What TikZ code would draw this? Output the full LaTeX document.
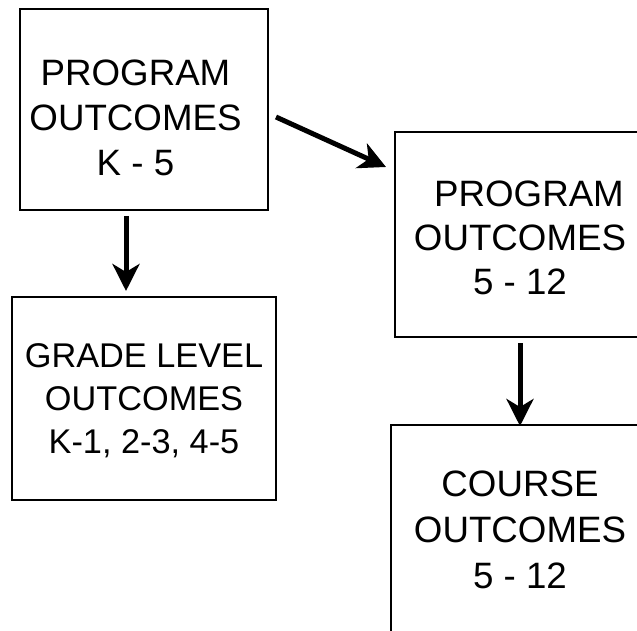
\documentclass[tikz,border=0pt]{standalone}
\usepackage{fontspec}
\setmainfont{Liberation Sans}
\usetikzlibrary{arrows.meta}
\begin{document}
\begin{tikzpicture}[x=1pt,y=-1pt,
  box/.style={draw=black, line width=2pt, inner sep=0pt},
  txt/.style={align=center, inner sep=0pt, font=\fontsize{36.7}{#1}\selectfont},
  smalltxt/.style={align=center, inner sep=0pt, font=\fontsize{34.3}{#1}\selectfont},
  arr/.style={line width=5pt, -{Stealth[length=27pt,width=27pt,inset=8pt]}}]
\useasboundingbox (0,0) rectangle (637,631);
\clip (0,0) rectangle (637,631);
% boxes
\node[box, minimum width=248pt, minimum height=201pt] (b1) at (144,109.5) {};
\node[box, minimum width=250pt, minimum height=205pt] (b2) at (520,234.5) {};
\node[box, minimum width=264pt, minimum height=203pt] (b3) at (144,398.5) {};
\node[box, minimum width=258pt, minimum height=210pt] (b4) at (520,530) {};
% texts
\node[txt=45pt] (t1) at (135.5,117.5) {PROGRAM\\OUTCOMES\\K - 5};
\node[txt=44pt] (t2) at (520,238) {\hspace*{18pt}PROGRAM\\OUTCOMES\\5 - 12};
\node[smalltxt=43pt] (t3) at (144,400.5) {GRADE LEVEL\\OUTCOMES\\K-1, 2-3, 4-5};
\node[txt=46pt] (t4) at (520,530) {COURSE\\OUTCOMES\\5 - 12};
% arrows
\draw[arr, shorten <=5pt, shorten >=5pt] ([xshift=-18pt]b1.south) -- ([xshift=-18pt]b3.north);
\draw[arr] ([xshift=7pt,yshift=-7.5pt]b1.east) -- ([xshift=-8pt,yshift=67.5pt]b2.west);
\draw[arr, shorten <=5pt, shorten >=-2pt] (b2.south) -- (b4.north);
\end{tikzpicture}
\end{document}
